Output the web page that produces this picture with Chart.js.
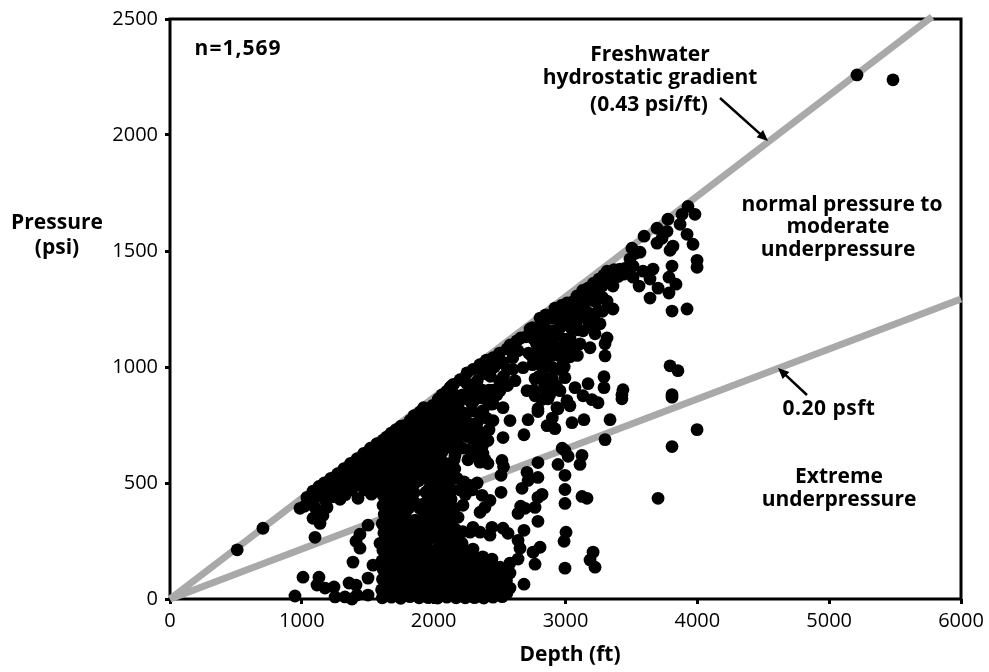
<!DOCTYPE html>
<html>
<head>
<meta charset="utf-8">
<title>Pressure vs depth</title>
<script src="https://cdn.jsdelivr.net/npm/chart.js@4"></script>
<style>
  html, body { margin: 0; background: #fff; }
  canvas { display: block; }
</style>
</head>
<body>
<canvas id="chart" width="989" height="672"></canvas>
<script>
// Tick values
const depthTicks = [0, 1000, 2000, 3000, 4000, 5000, 6000];
const pressureTicks = [0, 500, 1000, 1500, 2000, 2500];

// Gradient lines, [depth ft, pressure psi]
const freshwaterLine = [[0, 0], [5780, 2510]];
const lowGradientLine = [[0, 0], [6000, 1293]];

const outliers = [[510, 212], [705, 305], [5211, 2259], [5484, 2238], [1100, 266], [3998, 730], [3808, 657], [3702, 434]];

const shallowLow = [
  [948, 13], [1009, 94], [1130, 94], [1115, 60], [1176, 47], [1244, 52], [1252, 9], [1358, 69], [1411, 60], [1327, 9],
  [1380, 0], [1418, 17], [1502, 17], [1502, 90], [1540, 146], [1593, 240], [1502, 318], [1441, 279], [1411, 249],
  [1441, 219], [1388, 159], [1616, 404]
];

const upperBand = [
  [986, 391], [1020, 400], [1039, 438], [1085, 348], [1138, 326], [1160, 360], [1085, 465], [1090, 430], [1100, 395],
  [1130, 485], [1135, 445], [1191, 395], [1170, 500], [1175, 462], [1180, 425], [1220, 520], [1225, 480], [1230, 440],
  [1272, 540], [1268, 505], [1290, 430], [1275, 465], [1320, 562], [1325, 525], [1318, 485], [1330, 450], [1370, 585],
  [1372, 548], [1368, 510], [1375, 470], [1426, 434], [1420, 605], [1424, 570], [1418, 530], [1422, 490], [1470, 628],
  [1475, 590], [1468, 550], [1472, 510], [1478, 470], [1520, 650], [1522, 610], [1518, 570], [1525, 530], [1520, 490],
  [1528, 452], [1570, 670], [1565, 630], [1572, 590], [1568, 550], [1575, 510], [1570, 470]
];

const denseCore = [
  [1610, 5], [1605, 40], [1612, 85], [1618, 125], [1608, 165], [1615, 210], [1622, 285], [1610, 325], [1625, 365],
  [1618, 445], [1612, 485], [1620, 525], [1608, 565], [1615, 605], [1622, 645], [1618, 685],
  [1680, 8], [1676, 48], [1684, 92], [1672, 133], [1680, 175], [1688, 218], [1675, 262], [1682, 300], [1678, 345],
  [1686, 390], [1680, 432], [1674, 470], [1683, 515], [1688, 555], [1677, 595], [1680, 635], [1686, 675], [1678, 715],
  [1750, 3], [1745, 44], [1754, 88], [1748, 130], [1756, 172], [1742, 212], [1750, 255], [1758, 297], [1746, 338],
  [1752, 378], [1744, 420], [1755, 462], [1748, 505], [1752, 548], [1746, 590], [1756, 630], [1750, 668], [1744, 705],
  [1752, 745],
  [1820, 10], [1825, 52], [1815, 95], [1828, 138], [1818, 180], [1822, 222], [1814, 265], [1826, 308], [1812, 392],
  [1820, 436], [1828, 478], [1816, 520], [1824, 560], [1818, 600], [1826, 642], [1820, 685], [1815, 725], [1822, 770],
  [1890, 5], [1895, 45], [1885, 90], [1892, 135], [1898, 178], [1888, 220], [1895, 262], [1900, 305], [1915, 345],
  [1892, 392], [1886, 510], [1895, 555], [1890, 600], [1898, 642], [1885, 685], [1893, 728], [1888, 770], [1895, 805],
  [1960, 6], [1955, 48], [1965, 92], [1958, 135], [1962, 175], [1960, 255], [1968, 300], [1955, 342], [1962, 385],
  [1958, 430], [1965, 475], [1952, 520], [1960, 640], [1966, 680], [1955, 725], [1962, 765], [1958, 810],
  [2030, 4], [2025, 46], [2035, 90], [2028, 132], [2034, 172], [2026, 215], [2032, 258], [2024, 300], [2036, 345],
  [2028, 388], [2034, 432], [2025, 475], [2032, 520], [2026, 565], [2035, 610], [2028, 650], [2033, 695], [2025, 740],
  [2032, 785], [2028, 825], [2035, 862],
  [2100, 8], [2095, 50], [2105, 95], [2098, 138], [2108, 180], [2092, 225], [2102, 270], [2096, 315], [2105, 360],
  [2098, 405], [2090, 450], [2102, 495], [2094, 540], [2088, 585], [2100, 690], [2092, 735], [2105, 780], [2098, 825],
  [2106, 870], [2100, 895]
];

const denseFill = [
  [1645, 25], [1648, 65], [1642, 108], [1650, 150], [1644, 190], [1648, 235], [1652, 275], [1645, 320], [1650, 455],
  [1644, 500], [1648, 540], [1652, 585], [1645, 625], [1650, 665], [1644, 698],
  [1715, 25], [1718, 68], [1712, 110], [1720, 152], [1714, 195], [1716, 238], [1712, 280], [1718, 322], [1715, 365],
  [1720, 405], [1712, 445], [1716, 490], [1714, 530], [1718, 572], [1712, 612], [1716, 650], [1720, 690], [1715, 730],
  [1785, 28], [1788, 70], [1782, 112], [1786, 155], [1790, 200], [1784, 242], [1788, 285], [1782, 328], [1786, 370],
  [1790, 408], [1784, 450], [1788, 492], [1782, 535], [1786, 580], [1784, 620], [1790, 660], [1786, 705], [1782, 748],
  [1855, 30], [1858, 72], [1852, 118], [1856, 160], [1860, 200], [1854, 243], [1858, 285], [1855, 415], [1852, 458],
  [1858, 500], [1854, 540], [1856, 580], [1860, 622], [1852, 665], [1856, 705], [1854, 748], [1850, 790],
  [1925, 26], [1928, 68], [1922, 112], [1926, 155], [1930, 200], [1924, 240], [1928, 282], [1925, 325], [1930, 368],
  [1924, 410], [1920, 540], [1922, 620], [1928, 662], [1924, 705], [1926, 748], [1930, 790], [1925, 825],
  [1995, 25], [1998, 70], [1992, 112], [1996, 152], [1994, 278], [1998, 320], [1992, 365], [1996, 408], [1994, 452],
  [1998, 498], [1992, 540], [1996, 615], [1994, 660], [1998, 702], [1992, 745], [1996, 788], [1994, 835],
  [2065, 27], [2068, 68], [2062, 110], [2066, 152], [2064, 195], [2068, 238], [2062, 280], [2066, 322], [2064, 368],
  [2068, 410], [2062, 452], [2066, 498], [2064, 542], [2068, 588], [2062, 632], [2066, 672], [2064, 718], [2068, 760],
  [2062, 805], [2066, 848], [2064, 880],
  [2135, 28], [2138, 72], [2132, 116], [2136, 160], [2134, 205], [2138, 295], [2132, 430], [2136, 470], [2134, 560],
  [2138, 650], [2132, 710], [2136, 760], [2134, 805], [2138, 850], [2132, 895], [2136, 918],
  [1940, 460], [1860, 340], [1940, 580], [1965, 210], [2150, 250], [2140, 340], [2155, 390], [2150, 520], [2155, 600],
  [2165, 300], [2180, 270], [2220, 290], [2160, 560], [1625, 248], [1640, 410], [1975, 590]
];

const deepFloor = [
  [2170, 5], [2165, 45], [2175, 90], [2168, 135], [2172, 180], [2178, 228], [2240, 5], [2235, 48], [2245, 92], [2238, 140],
  [2242, 185], [2215, 240], [2310, 6], [2305, 45], [2315, 90], [2308, 135], [2312, 180], [2298, 215], [2380, 4], [2375, 48],
  [2385, 92], [2378, 140], [2372, 182], [2450, 8], [2445, 50], [2455, 95], [2448, 140], [2442, 172], [2520, 10], [2515, 55],
  [2525, 100], [2503, 137], [2579, 47], [2579, 112], [2579, 155], [2640, 172], [2685, 64], [2769, 150], [2640, 253],
  [2655, 219], [2807, 223], [2754, 202], [2685, 296], [2791, 335], [2640, 369], [2298, 309], [2276, 288], [2352, 288],
  [2442, 309], [2427, 275], [2526, 305], [2564, 283],
  [2205, 25], [2208, 68], [2202, 112], [2206, 158], [2204, 205], [2275, 25], [2278, 68], [2272, 112], [2276, 160],
  [2274, 205], [2345, 25], [2348, 68], [2342, 112], [2346, 160], [2415, 25], [2418, 70], [2412, 115], [2416, 155],
  [2485, 30], [2488, 75], [2482, 118], [2555, 25], [2552, 80]
];

const middleScatter = [
  [2222, 404], [2185, 352], [2427, 425], [2367, 447], [2352, 374], [2389, 395], [2276, 490], [2177, 520], [2412, 584],
  [2336, 619], [2350, 590], [2276, 640], [2162, 619], [2412, 683], [2526, 696], [2450, 769], [2298, 726], [2200, 769],
  [2374, 812], [2260, 700], [2330, 760], [2290, 810], [2180, 680], [2518, 597], [2530, 570], [2511, 533], [2511, 460],
  [2791, 588], [2708, 546], [2791, 524], [2716, 511], [2670, 477], [2822, 451], [2791, 438], [2769, 395], [2693, 391],
  [2660, 400], [2996, 640], [3020, 615], [2975, 650], [3125, 619], [3110, 580], [2943, 580], [2996, 533], [2996, 472],
  [2996, 412], [3125, 442], [3163, 434], [3004, 288], [2989, 249], [2996, 133], [3209, 202], [3186, 168], [3224, 137],
  [3300, 687], [3338, 773], [3140, 773], [3049, 760], [3034, 833], [2943, 820], [3428, 880], [2920, 734], [2860, 747],
  [2791, 808], [2716, 773], [2685, 708], [2579, 769],
  [2230, 505], [2290, 470], [2330, 500], [2200, 470], [2240, 450], [2374, 627], [2390, 600], [2370, 660], [2220, 650],
  [2260, 600], [2300, 660], [2220, 720], [2260, 760], [2320, 700], [2180, 740], [2240, 800], [2350, 720], [2380, 680],
  [2420, 730], [2400, 780], [2350, 800], [2900, 780]
];

const upperScatter = [
  [2124, 911], [2150, 925], [2200, 945], [2253, 975], [2300, 990], [2350, 1010], [2400, 1030], [2450, 1040], [2500, 1060],
  [2556, 1078], [2632, 1113], [2731, 1164], [2700, 1130], [2807, 1211], [2920, 1254], [3011, 1276], [3087, 1306],
  [3171, 1340], [3254, 1379], [3315, 1413], [3413, 1422], [3504, 1512], [3565, 1495], [3489, 1465], [3512, 1435],
  [3512, 1387], [3558, 1349], [3588, 1413], [3664, 1422], [3641, 1379], [3702, 1340], [3641, 1297], [3808, 1435],
  [3785, 1387], [3838, 1357], [3785, 1319], [3808, 1241], [3922, 1250], [3998, 1460], [3998, 1430], [3929, 1692],
  [3982, 1658], [3884, 1658], [3777, 1637], [3694, 1598], [3596, 1564], [3770, 1585], [3869, 1615], [3922, 1572],
  [3967, 1529], [3815, 1521], [3793, 1503], [3694, 1534], [3732, 1555], [3315, 1284], [3360, 1349], [3360, 1250],
  [3224, 1229], [3262, 1186], [3133, 1156], [3224, 1143], [3315, 1125], [3300, 1100], [3186, 1083], [3110, 1100],
  [3034, 1125], [3034, 1044], [3300, 1048], [3292, 958], [3292, 911], [3171, 928], [3072, 911], [3436, 902], [3428, 863],
  [3793, 1005], [3853, 984], [3808, 881], [3808, 870], [3133, 876], [3201, 859], [3247, 846], [3011, 855], [2996, 954],
  [2981, 1014], [2905, 997], [2807, 1014], [2784, 1057], [2860, 1083], [2958, 1083], [2905, 1156], [3011, 1186],
  [2829, 1125], [2981, 1254], [2882, 1211], [3057, 1241], [3090, 1250], [3150, 1290], [3040, 1170], [2950, 1200],
  [2769, 949], [2845, 906], [2708, 898], [2769, 876], [2867, 863], [2958, 898], [2935, 825], [2791, 820], [2617, 941],
  [2678, 997], [2526, 1020], [2480, 1014], [2374, 971], [2503, 898], [2298, 911], [2450, 842], [2526, 825], [2200, 855],
  [2352, 868], [2430, 960], [2250, 930], [2600, 1040], [2420, 900], [2160, 880], [2280, 850],
  [2440, 840], [2400, 860], [2480, 880], [2500, 940], [2560, 990], [2460, 1000], [2410, 990], [2330, 940], [2270, 890],
  [2200, 810], [2220, 880], [2160, 820], [2370, 900], [2450, 900], [2530, 960], [2300, 850],
  [2760, 1120], [2800, 1160], [2840, 1170], [2870, 1130], [2900, 1100], [2940, 1140], [2960, 1170], [2850, 1225],
  [2900, 1210], [2940, 1240], [2990, 1220], [3030, 1230], [3050, 1280], [2970, 1265], [3100, 1280], [3130, 1320],
  [3180, 1290], [3210, 1330], [3260, 1340], [3280, 1300], [3120, 1220], [3160, 1240], [3200, 1180], [3080, 1190],
  [2990, 1120], [2950, 1050], [2990, 1060], [2900, 1050], [2850, 1040], [2820, 1080], [2780, 1100], [2740, 1050],
  [2800, 960], [2830, 990], [2860, 950], [2900, 950], [2930, 920], [2880, 880], [2820, 860], [2760, 900],
  [2580, 1095], [2660, 1125], [2750, 1170], [3130, 1330], [3210, 1360], [3290, 1395], [3370, 1420], [3450, 1425],
  [3400, 1390], [3340, 1380], [3280, 1350], [3440, 1400], [3530, 1490],
  [2560, 920], [2600, 990], [2640, 1070], [2750, 1010], [2720, 1060], [2860, 1010], [2900, 900], [2950, 990],
  [2840, 930], [2990, 1000], [3040, 1080], [3090, 1050], [3100, 1160], [3170, 1200], [3230, 1280], [3280, 1240]
];

// Freehand labels on the canvas: text, centre x, centre y, letter spacing
const boldLabels = [
  ['n=1,569', 238, 49, 1], ['Freshwater', 650, 55, 0], ['hydrostatic gradient', 650, 78, 0], ['(0.43 psi/ft)', 649, 105, 0],
  ['normal pressure to', 842, 205, 0], ['moderate', 838, 227, 0], ['underpressure', 838, 250, 0], ['0.20 psft', 829, 409, 0.5],
  ['Extreme', 839, 477, 0], ['underpressure', 839, 500, 0], ['Pressure', 57, 223, 0], ['(psi)', 57, 248, 0], ['Depth (ft)', 570, 655, 0]
];
const arrows = [[720, 98, 768, 141], [807, 395, 778, 368]];

const toPoints = rows => rows.map(([x, y]) => ({ x, y }));
const allSamples = [outliers, shallowLow, upperBand, denseCore, denseFill, deepFloor, middleScatter, upperScatter].flat();

// Frame, arrows and labels
const decorations = {
  id: 'decorations',
  beforeDatasetsDraw(chart) {
    const { ctx, chartArea: a } = chart;
    ctx.save();
    ctx.strokeStyle = '#000';
    ctx.lineWidth = 3;
    ctx.strokeRect(a.left, a.top, a.right - a.left, a.bottom - a.top);
    ctx.restore();
  },
  afterDraw(chart) {
    const { ctx } = chart;
    ctx.save();
    ctx.strokeStyle = '#000';
    ctx.fillStyle = '#000';
    ctx.lineWidth = 2.5;
    arrows.forEach(([x1, y1, x2, y2]) => {
      const angle = Math.atan2(y2 - y1, x2 - x1);
      ctx.beginPath();
      ctx.moveTo(x1, y1);
      ctx.lineTo(x2 - 8 * Math.cos(angle), y2 - 8 * Math.sin(angle));
      ctx.stroke();
      ctx.beginPath();
      ctx.moveTo(x2, y2);
      ctx.lineTo(x2 - 12 * Math.cos(angle - 0.42), y2 - 12 * Math.sin(angle - 0.42));
      ctx.lineTo(x2 - 12 * Math.cos(angle + 0.42), y2 - 12 * Math.sin(angle + 0.42));
      ctx.closePath();
      ctx.fill();
    });
    ctx.font = 'bold 21px "Open Sans"';
    ctx.textAlign = 'center';
    ctx.textBaseline = 'middle';
    boldLabels.forEach(([text, x, y, spacing]) => {
      ctx.letterSpacing = spacing + 'px';
      ctx.fillText(text, x, y);
    });
    ctx.restore();
  }
};

const tickStyle = { color: '#000', font: { family: '"Open Sans"', size: 20 } };
const gridStyle = { drawOnChartArea: false, drawTicks: true, tickLength: 5, tickWidth: 3, tickColor: '#000' };

new Chart(document.getElementById('chart'), {
  type: 'scatter',
  data: {
    datasets: [
      {
        data: toPoints(allSamples),
        backgroundColor: '#000',
        borderColor: '#000',
        pointRadius: 6.4,
        pointBorderWidth: 0,
        clip: false
      },
      {
        data: toPoints(freshwaterLine),
        showLine: true,
        borderColor: '#a9a9a9',
        borderWidth: 7,
        pointRadius: 0,
        clip: false
      },
      {
        data: toPoints(lowGradientLine),
        showLine: true,
        borderColor: '#a9a9a9',
        borderWidth: 7,
        pointRadius: 0,
        clip: false
      }
    ]
  },
  plugins: [decorations],
  options: {
    responsive: false,
    animation: false,
    layout: { padding: { top: 17, right: 28, left: 0, bottom: 0 } },
    plugins: { legend: { display: false }, tooltip: { enabled: false } },
    scales: {
      x: {
        type: 'linear',
        min: depthTicks[0],
        max: depthTicks[depthTicks.length - 1],
        afterFit: scale => { scale.height = 73; },
        afterBuildTicks: scale => { scale.ticks = depthTicks.map(value => ({ value })); },
        border: { display: false },
        grid: gridStyle,
        ticks: { ...tickStyle, padding: 5, maxRotation: 0, callback: v => String(v) }
      },
      y: {
        type: 'linear',
        min: pressureTicks[0],
        max: pressureTicks[pressureTicks.length - 1],
        afterFit: scale => { scale.width = 170; },
        afterBuildTicks: scale => { scale.ticks = pressureTicks.map(value => ({ value })); },
        border: { display: false },
        grid: gridStyle,
        ticks: { ...tickStyle, padding: 7, callback: v => String(v) }
      }
    }
  }
});
</script>
</body>
</html>
